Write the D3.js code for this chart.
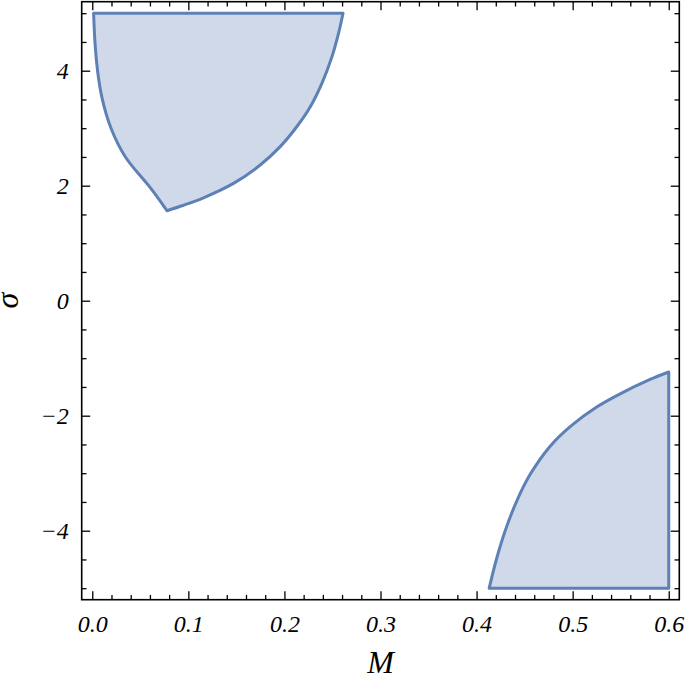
<!DOCTYPE html>
<html>
<head>
<meta charset="utf-8">
<script src="https://cdn.jsdelivr.net/npm/d3@7"></script>
<style>
  body { margin: 0; background: #fff; }
  svg text { font-family: "Liberation Serif", "Times New Roman", serif; font-style: italic; }
</style>
</head>
<body>
<div class="chart"></div>
<script>
// region boundaries, [M, sigma]
var upperLeftEdge = [[0.0014, 5], [0.0028, 4.5], [0.0055, 4.0], [0.0105, 3.5], [0.0195, 3.0],
  [0.0345, 2.5], [0.0587, 2.0], [0.0700, 1.75], [0.0777, 1.565]];
var upperRightEdge = [[0.0777, 1.565], [0.095, 1.66], [0.1158, 1.79], [0.147, 2.04], [0.1748, 2.36],
  [0.1956, 2.68], [0.213, 3.03], [0.2268, 3.37], [0.239, 3.78], [0.2494, 4.24], [0.2563, 4.65], [0.261, 5]];
var lowerEdge = [[0.4131, -5], [0.4211, -4.47], [0.4298, -4.0], [0.4419, -3.48], [0.4558, -3.02],
  [0.4766, -2.53], [0.4974, -2.19], [0.525, -1.85], [0.5494, -1.62], [0.5806, -1.37], [0.6, -1.24]];
var lowerCorner = [[0.6, -5]];

var xTicks = [0, 0.1, 0.2, 0.3, 0.4, 0.5, 0.6];
var yTicks = [-4, -2, 0, 2, 4];

var svgWidth = 685, svgHeight = 679;
var margin = {top: 1.7, right: 5.7, bottom: 79.3, left: 81.7};
var width = svgWidth - margin.left - margin.right;
var height = svgHeight - margin.top - margin.bottom;

var svg = d3.select(".chart").append("svg")
  .attr("width", svgWidth)
  .attr("height", svgHeight);
var g = svg.append("g")
  .attr("transform", `translate(${margin.left},${margin.top})`);

var x = d3.scaleLinear().domain([-0.011, 0.611]).range([0, width]);
var y = d3.scaleLinear().domain([-5.2, 5.2]).range([height, 0]);

// minor tick positions
var xMinor = d3.range(0, 0.6001, 0.02).filter(v => Math.abs(v * 10 - Math.round(v * 10)) > 1e-6);
var yMinor = d3.range(-5, 5.001, 0.5).filter(v => Math.abs(v / 2 - Math.round(v / 2)) > 1e-6);

// regions
var curve = d3.line().x(d => x(d[0])).y(d => y(d[1])).curve(d3.curveCatmullRom.alpha(0.5));
var straight = d3.line().x(d => x(d[0])).y(d => y(d[1]));

var upperPath = curve(upperLeftEdge) + curve(upperRightEdge).replace(/^M/, "L") + "Z";
var lowerPath = curve(lowerEdge) + straight(lowerCorner).replace(/^M/, "L") + "Z";

g.selectAll("path.region")
  .data([upperPath, lowerPath])
  .enter().append("path")
  .attr("class", "region")
  .attr("d", d => d)
  .attr("fill", "#cfd9e9")
  .attr("stroke", "#5e81b5")
  .attr("stroke-width", 3)
  .attr("stroke-linejoin", "round");

// axes: major + minor on all four sides, ticks pointing inward
function drawAxis(axis, transform, labels) {
  var a = g.append("g").attr("transform", transform).call(axis);
  a.select(".domain").remove();
  a.selectAll(".tick line").attr("stroke", "#000").attr("stroke-width", 1.3);
  a.selectAll("text").attr("fill", "#000").attr("font-size", "24px");
  if (!labels) a.selectAll("text").remove();
  return a;
}
var fmtX = d3.format(".1f");
var fmtY = d => (d < 0 ? "\u2212" : "") + Math.abs(d);

drawAxis(d3.axisBottom(x).tickValues(xTicks).tickSize(-8.5).tickPadding(15).tickFormat(fmtX), `translate(0,${height})`, true);
drawAxis(d3.axisBottom(x).tickValues(xMinor).tickSize(-4.8), `translate(0,${height})`, false);
drawAxis(d3.axisTop(x).tickValues(xTicks).tickSize(-8.5), "translate(0,0)", false);
drawAxis(d3.axisTop(x).tickValues(xMinor).tickSize(-4.8), "translate(0,0)", false);
drawAxis(d3.axisLeft(y).tickValues(yTicks).tickSize(-8.5).tickPadding(13).tickFormat(fmtY), "translate(0,0)", true);
drawAxis(d3.axisLeft(y).tickValues(yMinor).tickSize(-4.8), "translate(0,0)", false);
drawAxis(d3.axisRight(y).tickValues(yTicks).tickSize(-8.5), `translate(${width},0)`, false);
drawAxis(d3.axisRight(y).tickValues(yMinor).tickSize(-4.8), `translate(${width},0)`, false);

// frame
g.append("rect")
  .attr("width", width)
  .attr("height", height)
  .attr("fill", "none")
  .attr("stroke", "#000")
  .attr("stroke-width", 1.6);

// axis titles
svg.append("text")
  .attr("x", margin.left + width / 2)
  .attr("y", 672.5)
  .attr("text-anchor", "middle")
  .attr("font-size", "32px")
  .text("M");
svg.append("text")
  .attr("transform", `translate(18,${margin.top + height / 2}) rotate(-90)`)
  .attr("text-anchor", "middle")
  .attr("font-size", "32px")
  .text("\u03c3");
</script>
</body>
</html>
